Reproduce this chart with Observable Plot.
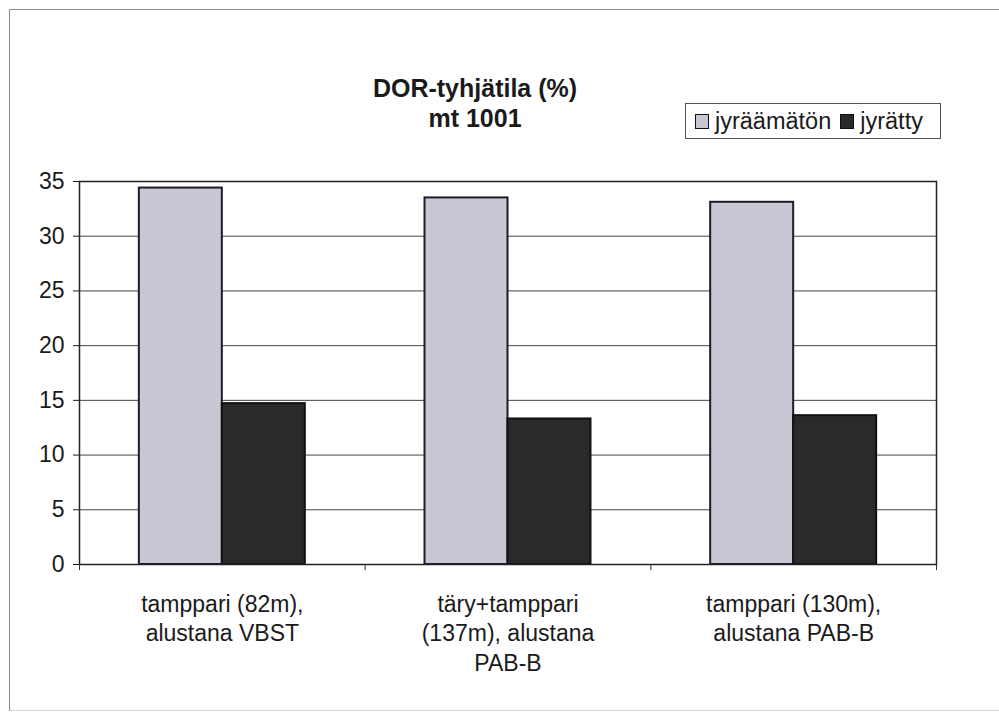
<!DOCTYPE html>
<html>
<head>
<meta charset="utf-8">
<script src="https://cdn.jsdelivr.net/npm/d3@7"></script>
<script src="https://cdn.jsdelivr.net/npm/@observablehq/plot@0.6"></script>
<style>
  html, body { margin: 0; padding: 0; background: #fff; }
  #wrap { position: relative; width: 999px; height: 712px; overflow: hidden; font-family: "Liberation Sans", Arial, sans-serif; color: #1a1a1a; }
  #border { position: absolute; left: 9px; top: 9px; width: 1000px; height: 700px; border-left: 1.5px solid #8a8a8a; border-top: 1.5px solid #8a8a8a; border-bottom: 1px solid #d8d8d8; }
  #chart { position: absolute; left: 0; top: 0; }
  #title { position: absolute; left: 275px; width: 400px; top: 73px; text-align: center; font-weight: bold; font-size: 25px; line-height: 30px; color: #1a1a1a; }
  #legend { position: absolute; left: 685px; top: 103px; width: 256px; height: 36px; border: 1px solid #555; display: flex; align-items: center; padding-left: 9px; box-sizing: border-box; font-size: 23.5px; color: #1a1a1a; }
  .sw { display: inline-block; width: 14px; height: 15px; border: 1.5px solid #111; margin-right: 6px; box-sizing: border-box; }
  .item { display: flex; align-items: center; margin-right: 9px; }
</style>
</head>
<body>
<div id="wrap">
  <div id="border"></div>
  <div id="chart"></div>
  <div id="title"></div>
  <div id="legend"></div>
</div>
<script>
// ---- data ----
const categories = [
  "tamppari (82m),\nalustana VBST",
  "täry+tamppari\n(137m), alustana\nPAB-B",
  "tamppari (130m),\nalustana PAB-B"
];
const seriesNames = ["jyräämätön", "jyrätty"];
const jyraamaton = [34.4, 33.5, 33.1];
const jyratty = [14.7, 13.3, 13.6];
const yTicks = [0, 5, 10, 15, 20, 25, 30, 35];
const titleLines = ["DOR-tyhjätila (%)", "mt 1001"];

const colors = ["#c8c8d4", "#2a2a2a"];

const rowsA = categories.map((c, i) => ({cat: c, value: jyraamaton[i], series: seriesNames[0]}));
const rowsB = categories.map((c, i) => ({cat: c, value: jyratty[i], series: seriesNames[1]}));

const W = 999, H = 712;
const mL = 79, mR = 63, mT = 181, mB = 148;
const padInner = 0.419, padOuter = padInner / 2;
const step = (W - mL - mR) / categories.length;
const bandwidth = step * (1 - padInner);
const half = bandwidth / 2;

const chart = Plot.plot({
  width: W,
  height: H,
  marginLeft: mL,
  marginRight: mR,
  marginTop: mT,
  marginBottom: mB,
  style: {fontFamily: "'Liberation Sans', Arial, sans-serif", fontSize: "23px", color: "#1a1a1a", background: "transparent"},
  x: {domain: categories, paddingInner: padInner, paddingOuter: padOuter, round: false, axis: null},
  y: {domain: [0, 35], ticks: yTicks, tickSize: 6, tickPadding: 9, label: null},
  marks: [
    Plot.ruleY(yTicks, {stroke: "#444", strokeWidth: 1}),
    Plot.barY(rowsA, {x: "cat", y: "value", fill: colors[0], stroke: "#1c1c2a", strokeWidth: 2, insetRight: half}),
    Plot.barY(rowsB, {x: "cat", y: "value", fill: colors[1], stroke: "#111", strokeWidth: 2, insetLeft: half}),
    Plot.frame({stroke: "#222", strokeWidth: 1.5}),
    Plot.ruleX(categories, {x: d => d, dx: -step / 2, y1: 0, y2: -0.55, stroke: "#333", strokeWidth: 1}),
    Plot.ruleX(categories.slice(-1), {x: d => d, dx: step / 2, y1: 0, y2: -0.55, stroke: "#333", strokeWidth: 1}),
    Plot.text(categories, {x: d => d, y: 0, text: d => d, dy: 26, lineAnchor: "top", lineHeight: 1.29, fontSize: 23, fill: "#1a1a1a"})
  ]
});
document.getElementById("chart").appendChild(chart);

document.getElementById("title").innerHTML = titleLines.map(t => `<div>${t}</div>`).join("");
document.getElementById("legend").innerHTML = seriesNames.map((s, i) =>
  `<span class="item"><span class="sw" style="background:${colors[i]}"></span>${s}</span>`).join("");
</script>
</body>
</html>
